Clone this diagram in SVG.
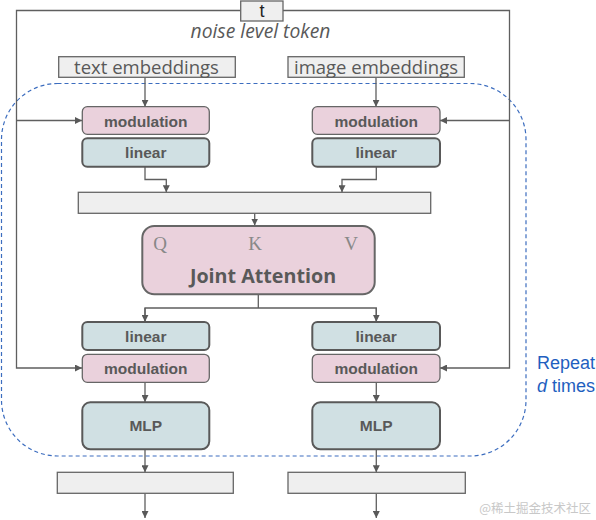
<svg xmlns="http://www.w3.org/2000/svg" width="596" height="520" viewBox="0 0 596 520">
<defs>
<marker id="ah" viewBox="0 0 10 10" refX="10" refY="5" markerWidth="7" markerHeight="7" markerUnits="userSpaceOnUse" orient="auto">
<path d="M0,0 L10,5 L0,10 z" fill="#595959"/>
</marker>
<style>
.ln{fill:none;stroke:#5f5f5f;stroke-width:1.3}
.bar{fill:#efefef;stroke:#666;stroke-width:1.3}
.mod{fill:#ead1dc;stroke:#666;stroke-width:1.3}
.lin{fill:#d0e0e3;stroke:#595959;stroke-width:2}
.lbl{font-family:"Liberation Sans",Arial,sans-serif;font-weight:bold;font-size:15.5px;fill:#595959;text-anchor:middle}
.emb{font-family:"Open Sans",sans-serif;font-size:18.5px;fill:#595959;text-anchor:middle}
.mono{font-family:"Liberation Serif","Times New Roman",serif;font-size:19px;fill:#888;text-anchor:middle}
</style>
</defs>
<rect width="596" height="520" fill="#fff"/>
<g id="repeat">
<rect x="1.5" y="83.5" width="524.5" height="372.5" rx="56" ry="56" fill="none" stroke="#3c6dbf" stroke-width="1.2" stroke-dasharray="4,3"/>
<text x="537" y="369" font-family="Liberation Sans,Arial,sans-serif" font-size="18" fill="#1f5fc0">Repeat</text>
<text x="537" y="391.5" font-family="Liberation Sans,Arial,sans-serif" font-size="18" fill="#1f5fc0"><tspan font-style="italic">d</tspan> times</text>
</g>
<g id="connectors">
<path class="ln" d="M240.5,10.5 H16.5 V368 H82" marker-end="url(#ah)"/>
<path class="ln" d="M16.5,120.5 H82" marker-end="url(#ah)"/>
<path class="ln" d="M283,10.5 H509.5 V368 H440" marker-end="url(#ah)"/>
<path class="ln" d="M509.5,120.5 H440" marker-end="url(#ah)"/>
<path class="ln" d="M145,77.5 V106.7" marker-end="url(#ah)"/>
<path class="ln" d="M376,77.5 V106.7" marker-end="url(#ah)"/>
<path class="ln" d="M145,167 V179.5 H166.3 V192.3" marker-end="url(#ah)"/>
<path class="ln" d="M376.3,167 V179.5 H342 V192.3" marker-end="url(#ah)"/>
<path class="ln" d="M254.7,192.3 V225.5" marker-end="url(#ah)"/>
<path class="ln" d="M258.3,294.5 V308 M145,321.7 V308 H376.3 V321.7"/>
<path class="ln" d="M145,308 V321.7" marker-end="url(#ah)"/>
<path class="ln" d="M376.3,308 V321.7" marker-end="url(#ah)"/>
<path class="ln" d="M145,382.5 V402" marker-end="url(#ah)"/>
<path class="ln" d="M376.3,382.5 V402" marker-end="url(#ah)"/>
<path class="ln" d="M145,449.5 V472.3" marker-end="url(#ah)"/>
<path class="ln" d="M376.3,449.5 V472.3" marker-end="url(#ah)"/>
<path class="ln" d="M145,493.5 V518" marker-end="url(#ah)"/>
<path class="ln" d="M376.3,493.5 V518" marker-end="url(#ah)"/>
</g>
<g id="t">
<rect class="bar" x="240.7" y="1" width="42.3" height="20"/>
<text x="262" y="17" font-family="Liberation Sans,Arial,sans-serif" font-size="18" fill="#222" text-anchor="middle">t</text>
</g>
<text x="260.5" y="38" font-family="Open Sans,sans-serif" font-style="italic" font-size="19.3" fill="#595959" text-anchor="middle">noise level token</text>
<g id="text-emb">
<rect class="bar" x="58.7" y="56.7" width="176.6" height="20.6"/>
<text class="emb" x="146.5" y="73.5">text embeddings</text>
</g>
<g id="image-emb">
<rect class="bar" x="288" y="56.7" width="176.3" height="20.6"/>
<text class="emb" x="376" y="73.5">image embeddings</text>
</g>
<g id="mod-tl"><rect class="mod" x="82.3" y="106.7" width="127" height="27.6" rx="5"/><text class="lbl" x="145.8" y="126.5">modulation</text></g>
<g id="lin-tl"><rect class="lin" x="82.3" y="138.3" width="127" height="28.4" rx="5"/><text class="lbl" x="145.8" y="158">linear</text></g>
<g id="mod-tr"><rect class="mod" x="312.3" y="106.7" width="127.7" height="27.6" rx="5"/><text class="lbl" x="376.2" y="126.5">modulation</text></g>
<g id="lin-tr"><rect class="lin" x="312.3" y="138.3" width="127.7" height="28.4" rx="5"/><text class="lbl" x="376.2" y="158">linear</text></g>
<g id="concat"><rect class="bar" x="78.3" y="192.3" width="352.4" height="21"/></g>
<g id="joint">
<rect x="142.3" y="226" width="232.4" height="68.3" rx="12" fill="#ead1dc" stroke="#666" stroke-width="2"/>
<text class="mono" x="160" y="250">Q</text>
<text class="mono" x="255" y="250">K</text>
<text class="mono" x="351" y="250">V</text>
<text x="263" y="283" font-family="Open Sans,sans-serif" font-weight="bold" font-size="19.7" fill="#595959" text-anchor="middle">Joint Attention</text>
</g>
<g id="lin-bl"><rect class="lin" x="82.3" y="322" width="127" height="28" rx="5"/><text class="lbl" x="145.8" y="341.5">linear</text></g>
<g id="mod-bl"><rect class="mod" x="82.3" y="354.3" width="127" height="28" rx="5"/><text class="lbl" x="145.8" y="374">modulation</text></g>
<g id="mlp-l"><rect class="lin" x="82.3" y="402.3" width="127" height="47" rx="8"/><text class="lbl" x="145.8" y="431">MLP</text></g>
<g id="lin-br"><rect class="lin" x="312.3" y="322" width="127.7" height="28" rx="5"/><text class="lbl" x="376.2" y="341.5">linear</text></g>
<g id="mod-br"><rect class="mod" x="312.3" y="354.3" width="127.7" height="28" rx="5"/><text class="lbl" x="376.2" y="374">modulation</text></g>
<g id="mlp-r"><rect class="lin" x="312.3" y="402.3" width="127.7" height="47" rx="8"/><text class="lbl" x="376.2" y="431">MLP</text></g>
<g id="out-l"><rect class="bar" x="57.3" y="472.3" width="176" height="21"/></g>
<g id="out-r"><rect class="bar" x="288" y="472.3" width="177.3" height="21"/></g>
<text x="591" y="513" font-family="Noto Sans CJK SC,sans-serif" font-size="12.5" fill="#c8c8c8" text-anchor="end">@稀土掘金技术社区</text>
</svg>
